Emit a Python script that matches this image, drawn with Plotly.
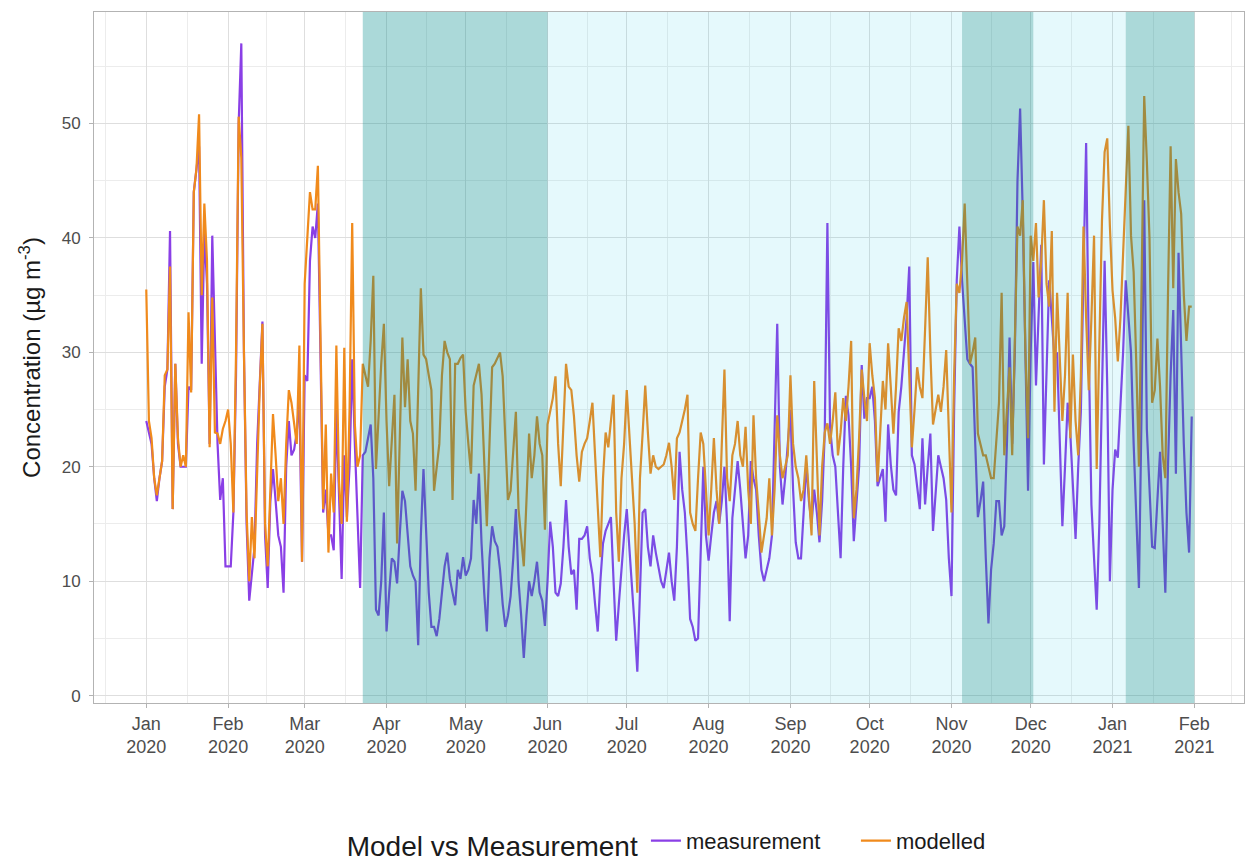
import pandas as pd
import plotly.graph_objects as go

# Daily concentrations, 1 Jan 2020 onwards (one line per month)
start_date = "2020-01-01"

measurement = [
    24, 23, 22, 19, 17, 19, 20.5, 27, 28.5, 40.6, 16.3, 29, 22, 20, 20, 20, 27, 26.7, 44, 46, 48, 29, 40.6, 36, 22, 40.2, 30, 22, 17.1, 19, 11.3,
    11.3, 11.3, 16, 28, 50, 57, 30, 15, 8.3, 10.6, 13, 22, 28, 32.7, 14, 9.4, 17, 19.8, 17, 14, 13, 9, 20, 24, 21, 21.5, 23, 26, 11.7,
    28, 27.5, 38, 41, 40, 43, 28, 16, 18, 14, 14, 12.7, 25, 17, 10.2, 21, 15.6, 20, 29.4, 22, 15, 9.4, 21, 21.3, 22.5, 23.7, 19, 7.5, 7, 10, 16,
    5.6, 9, 12, 11.7, 9.8, 14, 17.9, 17, 14, 11.3, 10.5, 10, 4.4, 14, 19.8, 14, 9, 6, 6, 5.2, 6.7, 9, 11.3, 12.5, 10.2, 9, 7.9, 11, 10.2, 12.1,
    10.5, 11, 12, 17.1, 15, 19.4, 13.3, 9, 5.6, 12, 14.8, 13.5, 13, 11, 8, 6, 7, 8.7, 12, 16.3, 10, 7, 3.3, 7, 10, 8.7, 10, 11.7, 9, 8.3, 6.1,
    10, 15.2, 13, 9, 8.7, 9.8, 13, 17.1, 13, 10.6, 11, 7.5, 13.7, 13.7, 14, 14.8, 12, 10.6, 8, 5.6, 10, 13.3, 14.4, 15, 15.6, 10, 4.8, 8, 11.3, 14,
    16.3, 13, 10.2, 6, 2.1, 10, 16, 16.3, 13, 11.3, 14, 12.5, 11.3, 10, 9.4, 11, 12.5, 10, 8.3, 13, 21.3, 18, 16, 12, 6.7, 6, 4.8, 5, 12, 20, 14,
    11.8, 14, 16, 17, 15, 17, 20, 15, 6.5, 15.5, 18, 20.5, 18, 15, 12, 14, 20.5, 19, 18, 14, 11, 10, 11, 12, 14, 24, 32.5, 20, 16.7, 19, 22.3,
    25, 18, 13.4, 12, 12, 16, 20.3, 17, 15, 18, 16, 13.4, 17, 23, 41.3, 23.5, 21, 20, 16, 12, 20, 26.2, 24.5, 20, 13.5, 17, 20, 28.9, 24.2, 26,
    26, 27, 24, 18.3, 19, 19.8, 15.2, 23.7, 20.2, 18, 17.5, 24.8, 27, 29.8, 33, 37.5, 21, 20.2, 18, 16.3, 22.5, 16.7, 20, 22.9, 14.4, 18, 21, 20, 19, 17.1, 12,
    8.7, 25, 36.3, 41, 36.3, 33, 29.4, 29, 28.7, 22, 15.6, 17, 18.7, 12, 6.3, 11, 13.3, 17, 17, 14, 14.8, 22, 31.3, 22, 30, 45, 51.3, 42.1, 30, 17.9,
    30, 37.9, 27.1, 33, 39.4, 20.2, 28, 36.3, 33, 29.4, 30, 22, 14.8, 20, 25.6, 22.9, 18, 13.7, 20, 24.8, 37, 48.3, 30, 16.7, 12, 7.5, 15, 26, 38, 27, 10,
    18, 21.5, 20.8, 25, 30, 36.3, 33, 30, 22, 15, 9.4, 25, 43.3, 23.3, 18, 13, 12.9, 17, 21.3, 15, 9, 20, 28, 33.7, 19.4, 38.7, 30, 22, 16, 12.5, 24.4,
]

modelled = [
    35.5, 24, 22.5, 19, 17.5, 19, 20.5, 28, 28.5, 37.5, 16.3, 29, 22.5, 20, 21, 20, 33.5, 26.5, 44, 46, 50.8, 35, 43, 38, 21.7, 34.8, 23, 22.9, 22, 23.3, 24,
    25, 22, 16, 30, 50.6, 47, 30, 16, 10, 15.6, 12, 20, 27, 32.5, 15, 11.3, 19, 24.6, 21, 17, 19, 15, 22, 26.7, 25.6, 24, 22, 30.6, 11.7,
    36, 40, 44, 42.5, 42.5, 46.3, 30, 16.3, 23.7, 12.5, 19.4, 16, 30.6, 18.7, 15, 30.4, 15.2, 25, 41.3, 23.7, 20, 21, 29, 28, 27, 31, 36.7, 19.8, 25, 29, 32.5,
    24, 18.3, 22, 26.3, 13.3, 22, 31.3, 25.2, 29.4, 24, 22.9, 17.9, 27, 35.6, 29.8, 29.4, 28, 26.7, 17.9, 19.8, 22, 28, 31, 30, 29.4, 17.1, 29, 29, 29.5, 29.8,
    24.8, 22, 19.4, 27.1, 28, 29, 26.3, 20, 14.8, 22, 28.7, 29, 29.5, 30, 27.9, 22, 17.1, 17.9, 21, 24.8, 16.3, 14, 11.3, 17, 22.9, 19, 21, 24.4, 22, 21, 14.5,
    23.7, 24.8, 26, 27.9, 22, 18.3, 23, 29, 27, 26.7, 24.4, 21, 18.7, 21.3, 22, 22.5, 24, 25.6, 21, 16, 12.1, 19, 23, 21.7, 24, 26.3, 16, 11.7, 19, 22,
    26.7, 23, 19.4, 15, 9, 19, 22.9, 27.1, 23, 19.4, 21, 20, 19.8, 20, 20.2, 21, 22.1, 20, 17.1, 22.5, 23, 24, 25, 26.3, 16, 15, 14.4, 19, 23, 22, 18,
    14, 18, 22.5, 18, 15, 22, 28.5, 19, 17, 21, 22, 24, 21, 20, 23.5, 18, 15, 24.5, 19, 16, 12.5, 14, 15.5, 19, 14, 18, 24.5, 21, 19, 20, 21,
    28, 22, 20, 19, 17, 18, 21, 17, 14, 27.5, 20, 14, 20, 23, 23.8, 22, 24, 26.5, 21, 23, 26, 24, 27, 31, 15.5, 18, 22.5, 28.5, 26, 24,
    30.8, 28, 26, 18.7, 23, 27.5, 25, 30.8, 27, 22.9, 27, 32.1, 31, 33, 34.4, 28, 21.7, 25, 28.7, 27, 26, 32, 38.3, 30, 23.7, 25, 26.3, 24.8, 27, 30.2, 22,
    16, 28, 36, 35.2, 38, 43, 35.6, 29, 30, 31.3, 22.9, 22, 21, 21, 20, 19, 19, 22, 25.6, 35.2, 21, 25, 28.7, 21, 32, 41, 40.2, 43.3, 30, 22.5,
    40.2, 38, 41.3, 34.8, 38, 43.3, 36, 34, 40.6, 24.8, 35.2, 30, 24, 28, 35.2, 22.5, 29.8, 24, 21, 27.9, 41, 33, 26.7, 33, 40.2, 19.8, 30, 41.5, 47.5, 48.7, 41,
    35.4, 33, 29.2, 33, 38.5, 45, 49.8, 40.2, 37, 29, 20, 36, 52.4, 46.7, 40, 25.6, 26.7, 31.2, 27, 21, 19, 35, 48, 35.6, 46.9, 44, 42.1, 35, 31, 34, 34,
]

# Restriction periods (start, end)
strict_periods = [("2020-03-23", "2020-06-01"), ("2020-11-05", "2020-12-02"), ("2021-01-06", "2021-02-01")]
eased_periods = [("2020-06-01", "2020-11-05"), ("2020-12-02", "2021-01-06")]

month_ticks = pd.date_range("2020-01-01", "2021-02-01", freq="MS")
y_ticks = [0, 10, 20, 30, 40, 50]

purple = "#8a3fe6"
orange = "#f08a1c"

dates = pd.date_range(start_date, periods=len(measurement), freq="D")

fig = go.Figure()
fig.add_trace(go.Scatter(x=dates, y=measurement, mode="lines", name="measurement",
                         line=dict(color=purple, width=2.2)))
fig.add_trace(go.Scatter(x=dates, y=modelled, mode="lines", name="modelled",
                         line=dict(color=orange, width=2.2)))

# translucent period bands drawn over the lines
for s, e in eased_periods:
    fig.add_shape(type="rect", xref="x", yref="paper", x0=s, x1=e, y0=0, y1=1,
                  fillcolor="rgba(0,200,225,0.10)", line_width=0, layer="above")
for s, e in strict_periods:
    fig.add_shape(type="rect", xref="x", yref="paper", x0=s, x1=e, y0=0, y1=1,
                  fillcolor="rgba(0,139,139,0.33)", line_width=0, layer="above")

# 5 % padding on both axes
span = dates[-1] - dates[0]
x_range = [dates[0] - span * 0.05, dates[-1] + span * 0.05]
all_vals = measurement + modelled
lo, hi = min(all_vals), max(all_vals)
pad = (hi - lo) * 0.05
y_range = [lo - pad, hi + pad]

# minor grid at the midpoints between month breaks
edges = pd.DatetimeIndex([month_ticks[0] - pd.DateOffset(months=1)]).append(month_ticks).append(
    pd.DatetimeIndex([month_ticks[-1] + pd.DateOffset(months=1)]))
minor_x = [edges[i] + (edges[i + 1] - edges[i]) / 2 for i in range(len(edges) - 1)]

family = "Liberation Sans, Arial, sans-serif"

fig.update_layout(
    width=1248, height=868,
    margin=dict(l=94, r=4, t=12, b=165, autoexpand=False),
    plot_bgcolor="white", paper_bgcolor="white",
    font=dict(family=family, color="#1a1a1a"),
    xaxis=dict(
        type="date", range=x_range,
        tickmode="array", tickvals=list(month_ticks),
        ticktext=[d.strftime("%b") + "<br>" + d.strftime("%Y") for d in month_ticks],
        tickfont=dict(family=family, size=18, color="#4d4d4d"),
        ticks="outside", ticklen=4, tickcolor="#b3b3b3", ticklabelstandoff=0,
        showgrid=True, gridcolor="#dedede", gridwidth=1,
        minor=dict(tickmode="array", tickvals=minor_x, showgrid=True,
                   gridcolor="#ececec", gridwidth=0.6, ticks=""),
        showline=True, mirror=True, linecolor="#b3b3b3", linewidth=1,
        zeroline=False,
    ),
    yaxis=dict(
        range=y_range, tickmode="array", tickvals=y_ticks,
        ticktext=[str(v) for v in y_ticks],
        tickfont=dict(family=family, size=17, color="#4d4d4d"),
        ticks="outside", ticklen=4, tickcolor="#b3b3b3", ticklabelstandoff=5,
        showgrid=True, gridcolor="#dedede", gridwidth=1,
        minor=dict(tickmode="array", tickvals=[5, 15, 25, 35, 45, 55], showgrid=True,
                   gridcolor="#ececec", gridwidth=0.6, ticks=""),
        showline=True, mirror=True, linecolor="#b3b3b3", linewidth=1,
        zeroline=False,
        title=dict(text="Concentration (µg m<sup>-3</sup>)", standoff=14,
                   font=dict(size=24, color="#1a1a1a")),
    ),
    legend=dict(
        orientation="h", x=0.218, xanchor="left", y=-0.237, yanchor="bottom",
        entrywidth=165, entrywidthmode="pixels",
        title=dict(text="Model vs Measurement", side="left",
                   font=dict(size=28, color="#1a1a1a")),
        font=dict(size=22, color="#1a1a1a"),
        bgcolor="rgba(0,0,0,0)",
    ),
)

fig.write_html("out.html")
